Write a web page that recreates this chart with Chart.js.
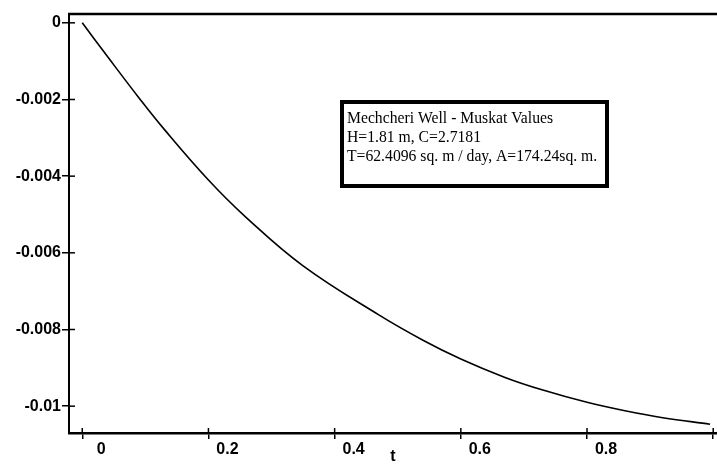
<!DOCTYPE html>
<html>
<head>
<meta charset="utf-8">
<script src="https://cdn.jsdelivr.net/npm/chart.js@4/dist/chart.umd.min.js"></script>
<style>
    html, body { margin: 0; padding: 0; background: #fff; }
    #graficoArea { position: relative; width: 717px; height: 466px; }
</style>
</head>
<body>
<div id="graficoArea"><canvas id="grafico"></canvas></div>
<script>
// Tempo t (eixo x)
const tempos = [0, 0.04, 0.09, 0.13, 0.2, 0.26, 0.35, 0.47, 0.54, 0.6, 0.67, 0.73, 0.8, 0.86, 0.92, 0.995]
// Valores de Muskat (eixo y)
const valores = [0, -0.00088, -0.00196, -0.00278, -0.0041, -0.00508, -0.00634, -0.00762, -0.00828, -0.00877, -0.00925, -0.00958, -0.0099, -0.01012, -0.0103, -0.01047]
// Rótulos dos eixos
const rotulosX = ['0', '0.2', '0.4', '0.6', '0.8']
const rotulosY = ['0', '-0.002', '-0.004', '-0.006', '-0.008', '-0.01']
// Texto da caixa de legenda
const textoCaixa = [
    'Mechcheri Well - Muskat Values',
    'H=1.81 m, C=2.7181',
    'T=62.4096 sq. m / day, A=174.24sq. m.'
]

// Junta os pontos x e y
let pontos = []
for (let i = 0; i < tempos.length; i++) {
    pontos.push({x: tempos[i], y: valores[i]})
}

// Moldura de cima + marcas dos ticks que cruzam os eixos
const moldura = {
    id: 'moldura',
    afterDraw(chart) {
        const ctx = chart.ctx
        const area = chart.chartArea
        ctx.save()
        ctx.strokeStyle = '#000'
        // linha de cima
        ctx.lineWidth = 2.5
        ctx.beginPath()
        ctx.moveTo(area.left - 1, area.top)
        ctx.lineTo(area.right, area.top)
        ctx.stroke()
        // parte interna dos ticks
        ctx.lineWidth = 1.5
        chart.scales.y.ticks.forEach(t => {
            let py = chart.scales.y.getPixelForValue(t.value)
            ctx.beginPath()
            ctx.moveTo(area.left, py)
            ctx.lineTo(area.left + 6, py)
            ctx.stroke()
        })
        chart.scales.x.ticks.forEach(t => {
            let px = chart.scales.x.getPixelForValue(t.value)
            ctx.beginPath()
            ctx.moveTo(px, area.bottom)
            ctx.lineTo(px, area.bottom - 5)
            ctx.stroke()
        })
        ctx.restore()
    }
}

// Caixa com o texto
const caixa = {
    id: 'caixa',
    afterDraw(chart) {
        const ctx = chart.ctx
        const x = 342, y = 102, w = 265, h = 84
        ctx.save()
        ctx.fillStyle = '#fff'
        ctx.fillRect(x, y, w, h)
        ctx.strokeStyle = '#000'
        ctx.lineWidth = 4
        ctx.strokeRect(x, y, w, h)
        ctx.fillStyle = '#000'
        ctx.font = '15.7px "Liberation Serif", "Times New Roman", serif'
        ctx.textBaseline = 'middle'
        for (let i = 0; i < textoCaixa.length; i++) {
            ctx.fillText(textoCaixa[i], x + 5, y + 17 + i * 19)
        }
        ctx.restore()
    }
}

const fonteEixo = {family: '"Liberation Sans", Arial, sans-serif', size: 16, weight: 'bold'}

const config = {
    type: 'scatter',
    data: {
        datasets: [{
            data: pontos,
            showLine: true,
            borderColor: '#000',
            borderWidth: 1.6,
            pointRadius: 0,
            tension: 0.4,
            fill: false
        }]
    },
    options: {
        responsive: false,
        animation: false,
        layout: {padding: {top: 14, right: 0, left: 0, bottom: 0}},
        plugins: {legend: {display: false}, tooltip: {enabled: false}},
        scales: {
            x: {
                type: 'linear',
                min: -0.021,
                max: 1.006,
                afterFit: s => { s.height = 33 },
                border: {color: '#000', width: 2.5},
                grid: {display: true, drawOnChartArea: false, color: '#000', lineWidth: 1.5, tickLength: 6},
                ticks: {
                    stepSize: 0.2,
                    includeBounds: false,
                    color: '#000',
                    font: fonteEixo,
                    padding: 1,
                    labelOffset: 19,
                    maxRotation: 0,
                    autoSkip: false,
                    callback: function (v) {
                        let i = Math.round(v / 0.2)
                        return rotulosX[i] !== undefined ? rotulosX[i] : ''
                    }
                },
                title: {display: true, text: 't', color: '#000', font: fonteEixo, padding: {top: 0, bottom: 0}}
            },
            y: {
                min: -0.0107,
                max: 0.00023,
                afterFit: s => { s.width = 69 },
                border: {color: '#000', width: 2},
                grid: {display: true, drawOnChartArea: false, color: '#000', lineWidth: 1.5, tickLength: 7},
                ticks: {
                    stepSize: 0.002,
                    includeBounds: false,
                    color: '#000',
                    font: fonteEixo,
                    padding: 1,
                    callback: function (v) {
                        let i = Math.round(-v / 0.002)
                        return rotulosY[i] !== undefined ? rotulosY[i] : ''
                    }
                }
            }
        }
    },
    plugins: [moldura, caixa]
}

// Renderiza o gráfico no canvas
const canvas = document.getElementById('grafico')
canvas.width = 717
canvas.height = 466
new Chart(canvas.getContext('2d'), config)
</script>
</body>
</html>
